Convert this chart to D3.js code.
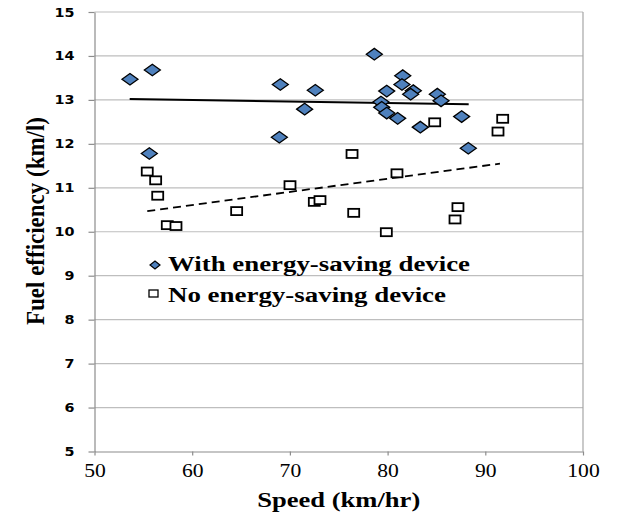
<!DOCTYPE html>
<html>
<head>
<meta charset="utf-8">
<script src="https://cdn.jsdelivr.net/npm/d3@7"></script>
<style>
html,body{margin:0;padding:0;background:#fff;}
svg{display:block;}
</style>
</head>
<body>
<svg id="chart" width="621" height="520"></svg>
<script>
// Data
const withSpeed = [53.63,55.92,55.61,69.02,72.60,71.51,68.92,78.64,81.55,81.47,79.91,82.63,82.36,85.09,85.47,79.32,79.40,79.91,81.03,83.35,87.58,88.26];
const withEff   = [13.47,13.68,11.78,13.35,13.22,12.79,12.15,14.04,13.55,13.35,13.20,13.21,13.13,13.13,12.98,12.95,12.83,12.70,12.58,12.38,12.62,11.90];
const noSpeed = [55.40,56.26,56.47,57.45,58.34,64.55,70.01,72.50,73.08,76.36,76.53,79.87,84.82,80.96,87.20,86.90,91.30,91.78];
const noEff   = [11.37,11.17,10.82,10.15,10.13,10.47,11.06,10.68,10.72,11.77,10.43,9.99,12.49,11.33,10.56,10.28,12.28,12.57];
const withTrendX = [53.6, 88.3];
const withTrendY = [13.02, 12.90];
const noTrendX = [55.4, 91.5];
const noTrendY = [10.47, 11.55];
const xTicks = [50,60,70,80,90,100];
const yTicks = [5,6,7,8,9,10,11,12,13,14,15];
const seriesNames = ["With energy-saving device","No energy-saving device"];
const xTitle = "Speed (km/hr)";
const yTitle = "Fuel efficiency (km/l)";

const svg = d3.select("#chart");
const L = 94.5, R = 583, T = 12, B = 451.5;
const x = d3.scaleLinear().domain([50,100]).range([L,R]);
const y = d3.scaleLinear().domain([5,15]).range([B,T]);

// gridlines
svg.append("g").selectAll("line").data(yTicks.filter(d=>d>5)).join("line")
  .attr("x1",L).attr("x2",R).attr("y1",d=>y(d)).attr("y2",d=>y(d))
  .attr("stroke","#BEBEBE").attr("stroke-width",1.2);
// right border
svg.append("line").attr("x1",R).attr("x2",R).attr("y1",T).attr("y2",B)
  .attr("stroke","#A6A6A6").attr("stroke-width",1.2);

// axes
const xAxis = svg.append("g").attr("transform",`translate(0,${B})`)
  .call(d3.axisBottom(x).tickValues(xTicks).tickSize(4).tickSizeOuter(0).tickPadding(10));
xAxis.select(".domain").attr("stroke","#8C8C8C").attr("stroke-width",1.2);
xAxis.selectAll(".tick line").attr("stroke","#8C8C8C").attr("stroke-width",1.2);
xAxis.selectAll("text").attr("font-family","'Liberation Serif','Times New Roman',serif")
  .attr("font-size",19).attr("fill","#000").attr("dy","0.6em")
  .attr("textLength",d=>String(d).length*10.8).attr("lengthAdjust","spacingAndGlyphs");

const yAxis = svg.append("g").attr("transform",`translate(${L},0)`)
  .call(d3.axisLeft(y).tickValues(yTicks).tickSize(6).tickSizeOuter(0).tickPadding(13));
yAxis.select(".domain").attr("stroke","#8C8C8C").attr("stroke-width",1.2);
yAxis.selectAll(".tick line").attr("stroke","#8C8C8C").attr("stroke-width",1.2);
yAxis.selectAll("text").attr("font-family","'DejaVu Sans',Verdana,sans-serif")
  .attr("font-weight","bold").attr("font-size",12.5).attr("fill","#000")
  .attr("transform","scale(1.15,1)").attr("x",-17.5);

// trend lines
svg.append("line").attr("x1",x(withTrendX[0])).attr("y1",y(withTrendY[0]))
  .attr("x2",x(withTrendX[1])).attr("y2",y(withTrendY[1]))
  .attr("stroke","#000").attr("stroke-width",2);
svg.append("line").attr("x1",x(noTrendX[0])).attr("y1",y(noTrendY[0]))
  .attr("x2",x(noTrendX[1])).attr("y2",y(noTrendY[1]))
  .attr("stroke","#000").attr("stroke-width",1.8).attr("stroke-dasharray","8,5");

// squares
const noData = noSpeed.map((s,i)=>({s, e:noEff[i]}));
svg.append("g").selectAll("rect").data(noData).join("rect")
  .attr("x",d=>x(d.s)-5.5).attr("y",d=>y(d.e)-4)
  .attr("width",11).attr("height",8)
  .attr("fill","#fff").attr("stroke","#000").attr("stroke-width",1.8);

// diamonds
const withData = withSpeed.map((s,i)=>({s, e:withEff[i]}));
const diamond = "M-8,0L0,-5.8L8,0L0,5.8Z";
svg.append("g").selectAll("path").data(withData).join("path")
  .attr("d",diamond)
  .attr("transform",d=>`translate(${x(d.s)},${y(d.e)})`)
  .attr("fill","#4F81BD").attr("stroke","#000").attr("stroke-width",1.3);

// legend
const lg = svg.append("g");
lg.append("path").attr("d","M-5,0L0,-4L5,0L0,4Z").attr("transform","translate(155,265)")
  .attr("fill","#4F81BD").attr("stroke","#000").attr("stroke-width",1.2);
lg.append("rect").attr("x",149).attr("y",290).attr("width",9).attr("height",7)
  .attr("fill","#fff").attr("stroke","#000").attr("stroke-width",1.3);
lg.append("text").attr("x",168).attr("y",271).text(seriesNames[0])
  .attr("font-family","'Liberation Serif','Times New Roman',serif").attr("font-weight","bold")
  .attr("font-size",20).attr("textLength",302).attr("lengthAdjust","spacingAndGlyphs");
lg.append("text").attr("x",168).attr("y",302).text(seriesNames[1])
  .attr("font-family","'Liberation Serif','Times New Roman',serif").attr("font-weight","bold")
  .attr("font-size",20).attr("textLength",278).attr("lengthAdjust","spacingAndGlyphs");

// axis titles
svg.append("text").attr("x",(L+R)/2).attr("y",507).attr("text-anchor","middle")
  .text(xTitle).attr("font-family","'Liberation Serif','Times New Roman',serif")
  .attr("font-weight","bold").attr("font-size",20)
  .attr("textLength",163).attr("lengthAdjust","spacingAndGlyphs");
svg.append("text").attr("transform","translate(44,221) rotate(-90)")
  .attr("text-anchor","middle").text(yTitle)
  .attr("font-family","'Liberation Serif','Times New Roman',serif")
  .attr("font-weight","bold").attr("font-size",25)
  .attr("textLength",208).attr("lengthAdjust","spacingAndGlyphs");
</script>
</body>
</html>
